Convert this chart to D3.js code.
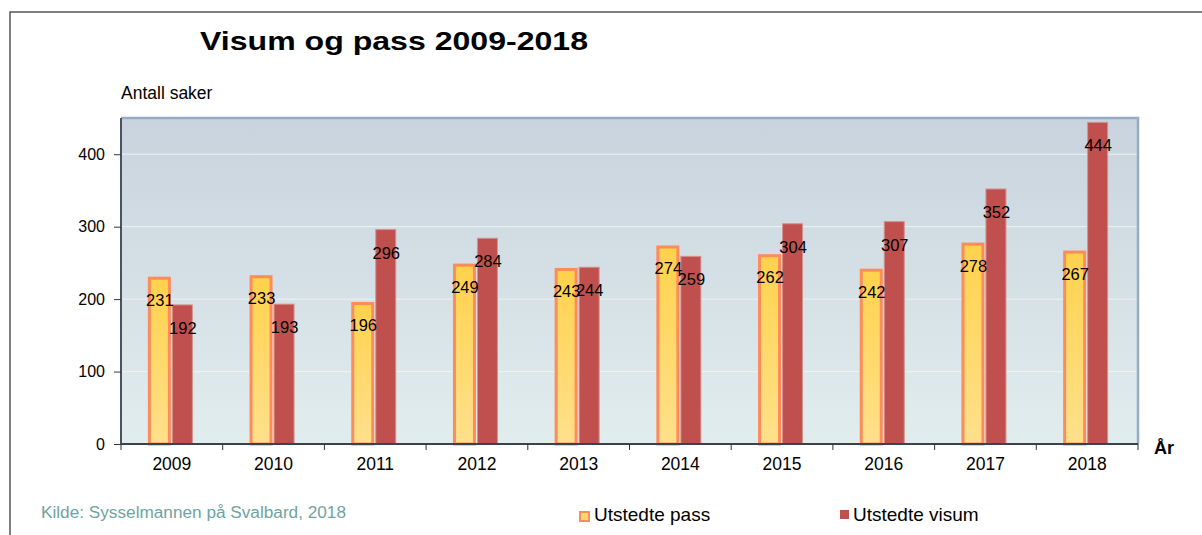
<!DOCTYPE html>
<html>
<head>
<meta charset="utf-8">
<script src="https://cdn.jsdelivr.net/npm/d3@7"></script>
<style>
  body { margin: 0; background: #fff; }
  svg text { font-family: "Liberation Sans", Arial, sans-serif; }
</style>
</head>
<body>
<div id="chart"></div>
<script>
// data
const years = ["2009", "2010", "2011", "2012", "2013", "2014", "2015", "2016", "2017", "2018"];
const seriesNames = ["Utstedte pass", "Utstedte visum"];
const passValues = [231, 233, 196, 249, 243, 274, 262, 242, 278, 267];
const visumValues = [192, 193, 296, 284, 244, 259, 304, 307, 352, 444];
const yTicks = [0, 100, 200, 300, 400];

const W = 1202, H = 535;
const plot = { left: 121, right: 1138, top: 118, bottom: 444 };

const svg = d3.select("#chart")
  .append("svg")
    .attr("width", W)
    .attr("height", H);

// gradients
const defs = svg.append("defs");
const bg = defs.append("linearGradient").attr("id", "bgGrad")
  .attr("x1", 0).attr("y1", 0).attr("x2", 0).attr("y2", 1);
bg.append("stop").attr("offset", "0%").attr("stop-color", "#c8d3de");
bg.append("stop").attr("offset", "100%").attr("stop-color", "#e1eded");

const passGrad = defs.append("linearGradient").attr("id", "passGrad")
  .attr("x1", 0).attr("y1", 0).attr("x2", 0).attr("y2", 1);
passGrad.append("stop").attr("offset", "0%").attr("stop-color", "#ffd24c");
passGrad.append("stop").attr("offset", "100%").attr("stop-color", "#ffe08c");

// outer frame (only top and left edges visible in the crop)
svg.append("rect")
  .attr("x", 10).attr("y", 12)
  .attr("width", W + 20).attr("height", H + 20)
  .attr("fill", "none")
  .attr("stroke", "#555")
  .attr("stroke-width", 1.5);

// scales
const x = d3.scaleBand()
  .domain(years)
  .range([plot.left, plot.right]);

const y = d3.scaleLinear()
  .domain([0, 450])
  .range([plot.bottom, plot.top]);

// plot background
svg.append("rect")
  .attr("x", plot.left).attr("y", plot.top)
  .attr("width", plot.right - plot.left)
  .attr("height", plot.bottom - plot.top)
  .attr("fill", "url(#bgGrad)");

// grid lines
svg.append("g")
  .selectAll("line")
  .data(yTicks.filter(d => d > 0))
  .enter().append("line")
    .attr("x1", plot.left).attr("x2", plot.right)
    .attr("y1", d => y(d)).attr("y2", d => y(d))
    .attr("stroke", "#eef3f4")
    .attr("stroke-width", 1);

// plot border top + right
svg.append("path")
  .attr("d", `M${plot.left},${plot.top} H${plot.right} V${plot.bottom}`)
  .attr("fill", "none")
  .attr("stroke", "#98abc6")
  .attr("stroke-width", 2.5);

// bars
const groups = svg.append("g")
  .selectAll("g")
  .data(years.map((yr, i) => ({ yr, pass: passValues[i], visum: visumValues[i] })))
  .enter().append("g")
    .attr("transform", d => `translate(${x(d.yr) + x.bandwidth() / 2},0)`);

groups.append("rect")
  .attr("x", -22.5)
  .attr("width", 20)
  .attr("y", d => y(d.pass) + 1.5)
  .attr("height", d => y(0) - y(d.pass) - 1.5)
  .attr("fill", "url(#passGrad)")
  .attr("stroke", "#ff8a5a")
  .attr("stroke-width", 3);

groups.append("rect")
  .attr("x", 0.5)
  .attr("width", 20)
  .attr("y", d => y(d.visum))
  .attr("height", d => y(0) - y(d.visum))
  .attr("fill", "#c0504d")
  .attr("stroke", "#d4908e")
  .attr("stroke-width", 1);

// value labels
groups.append("text")
  .attr("x", -12)
  .attr("y", d => y(d.pass) + 23)
  .attr("dy", "0.36em")
  .attr("text-anchor", "middle")
  .style("font-size", "16.5px")
  .attr("fill", "#000")
  .text(d => d.pass);

groups.append("text")
  .attr("x", 11)
  .attr("y", d => y(d.visum) + 23)
  .attr("dy", "0.36em")
  .attr("text-anchor", "middle")
  .style("font-size", "16.5px")
  .attr("fill", "#000")
  .text(d => d.visum);

// y axis
const yAxis = svg.append("g")
  .attr("transform", `translate(${plot.left},0)`)
  .call(d3.axisLeft(y).tickValues(yTicks).tickSize(7).tickPadding(9));
yAxis.select(".domain").attr("stroke", "#4a5360").attr("stroke-width", 2)
  .attr("d", `M0,${plot.top}V${plot.bottom}`);
yAxis.selectAll(".tick line").attr("stroke", "#333");
yAxis.selectAll(".tick text").style("font-size", "16px").attr("fill", "#000");

// x axis with ticks on band boundaries
const xAxis = svg.append("g")
  .attr("transform", `translate(0,${plot.bottom})`)
  .call(d3.axisBottom(x).tickSize(0).tickPadding(14));
xAxis.select(".domain").attr("stroke", "#3a4250").attr("stroke-width", 2)
  .attr("d", `M${plot.left},0H${plot.right}`);
xAxis.selectAll(".tick text").style("font-size", "17.5px").attr("fill", "#000");
xAxis.append("g")
  .selectAll("line")
  .data(years.map(d => x(d)).concat([plot.right]))
  .enter().append("line")
    .attr("x1", d => d).attr("x2", d => d)
    .attr("y1", 0).attr("y2", 6)
    .attr("stroke", "#333");

// titles
svg.append("text")
  .attr("x", 200).attr("y", 50)
  .attr("textLength", 388)
  .attr("lengthAdjust", "spacingAndGlyphs")
  .style("font-size", "25px")
  .style("font-weight", "bold")
  .text("Visum og pass 2009-2018");

svg.append("text")
  .attr("x", 121).attr("y", 99)
  .style("font-size", "17.5px")
  .text("Antall saker");

svg.append("text")
  .attr("x", 1154).attr("y", 454)
  .style("font-size", "18px")
  .style("font-weight", "bold")
  .text("År");

svg.append("text")
  .attr("x", 41).attr("y", 518)
  .attr("textLength", 305)
  .attr("lengthAdjust", "spacingAndGlyphs")
  .style("font-size", "16px")
  .attr("fill", "#6fa3a0")
  .text("Kilde: Sysselmannen på Svalbard, 2018");

// legend
const legend = svg.append("g")
  .selectAll("g")
  .data(seriesNames)
  .enter().append("g")
    .attr("transform", (d, i) => `translate(${i === 0 ? 579 : 840},510)`);

legend.append("rect")
  .attr("x", d => d === seriesNames[0] ? 1 : 0)
  .attr("y", d => d === seriesNames[0] ? 2 : 0)
  .attr("width", d => d === seriesNames[0] ? 9 : 9)
  .attr("height", d => d === seriesNames[0] ? 9 : 9)
  .attr("fill", d => d === seriesNames[0] ? "#ffd966" : "#c0504d")
  .attr("stroke", d => d === seriesNames[0] ? "#ff8a5a" : "none")
  .attr("stroke-width", 2);

legend.append("text")
  .attr("x", d => d === seriesNames[0] ? 15 : 13)
  .attr("y", 11)
  .style("font-size", "19px")
  .attr("fill", "#000")
  .text(d => d);
</script>
</body>
</html>
